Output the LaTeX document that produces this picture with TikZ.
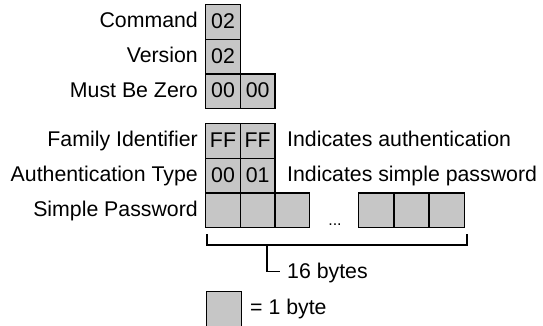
\documentclass[tikz,border=0pt]{standalone}
\usepackage{fontspec}
\setmainfont{Liberation Sans}
\definecolor{cellgray}{RGB}{198,198,198}
\begin{document}
\begin{tikzpicture}[x=1pt,y=-1pt,
  font=\fontsize{21.3}{24}\selectfont,
  cell/.style={draw=black, line width=1.3pt, fill=cellgray, minimum width=34.7pt,
    minimum height=34.7pt, inner sep=0pt, text height=13pt, text depth=0pt, anchor=north west},
  lab/.style={anchor=east, inner sep=0pt, text height=13pt, text depth=0pt},
  note/.style={anchor=west, inner sep=0pt, text height=13pt, text depth=0pt},
  brk/.style={line width=1.3pt}]
\useasboundingbox[fill=white] (0,0) rectangle (543,326);
% cells
\node[cell] (cmd)  at (205,4)      {02};
\node[cell] (ver)  at (205,38.7)   {02};
\node[cell] (mbz1) at (205,73.4)   {00};
\node[cell] (mbz2) at (239.7,73.4) {00};
\node[cell] (fi1)  at (205,123)    {FF};
\node[cell] (fi2)  at (239.7,123)  {FF};
\node[cell] (at1)  at (205,157.7)  {00};
\node[cell] (at2)  at (239.7,157.7){01};
\node[cell] (sp1)  at (205,192.4)  {};
\node[cell] (sp2)  at (239.7,192.4){};
\node[cell] (sp3)  at (274.4,192.4){};
\node[cell] (sp4)  at (358,192.4)  {};
\node[cell] (sp5)  at (393.5,192.4){};
\node[cell] (sp6)  at (429,192.4)  {};
% labels
\node[lab] (lcmd) at (198,21.35)  {Command};
\node[lab] (lver) at (198,56.05)  {Version};
\node[lab] (lmbz) at (198,90.75)  {Must Be Zero};
\node[lab] (lfi)  at (198,140.35) {Family Identifier};
\node[lab] (lat)  at (198,175.05) {Authentication Type};
\node[lab] (lsp)  at (198,209.75) {Simple Password};
% notes
\node[note] (nfi) at (287,140.35) {Indicates authentication};
\node[note] (nat) at (287,175.05) {Indicates simple password};
% dots
\node[anchor=base, inner sep=0pt, font=\fontsize{16}{16}\selectfont] (dots) at (335,225) {...};
% bracket
\coordinate (bl) at (207,234);
\coordinate (br) at (467,234);
\draw[brk] (bl) -- ++(0,11) -| (br);
\coordinate (stem) at (267,245);
\node[note, inner xsep=7pt] (n16) at (280,271.5) {16 bytes};
\draw[brk] (stem) |- (n16.west);
% legend
\node[cell] (leg) at (206,291) {};
\node[note] (legt) at (250,308.4) {= 1 byte};
\end{tikzpicture}
\end{document}
